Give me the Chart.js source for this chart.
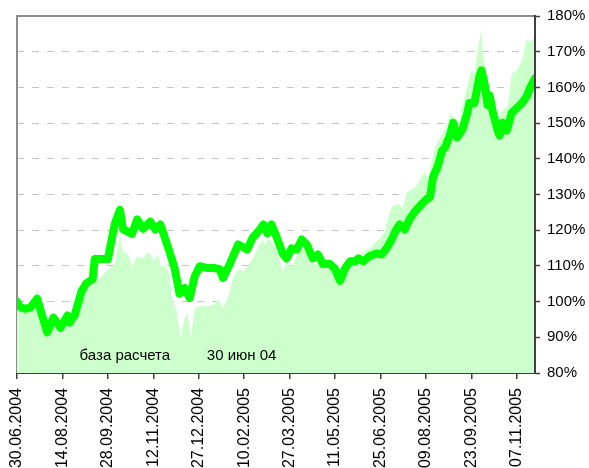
<!DOCTYPE html>
<html>
<head>
<meta charset="utf-8">
<script src="https://cdn.jsdelivr.net/npm/chart.js@4/dist/chart.umd.min.js"></script>
<style>
  html, body { margin: 0; padding: 0; background: #ffffff; }
  #wrap { width: 589px; height: 468px; position: relative; }
</style>
</head>
<body>
<div id="wrap"><canvas id="c" width="589" height="468"></canvas></div>
<script>
// ---- data (day offset from 30.06.2004, value in %) ----
const tickDays = [0, 45, 90, 135, 180, 225, 270, 315, 360, 405, 450, 495];
const tickLabels = ['30.06.2004', '14.08.2004', '28.09.2004', '12.11.2004', '27.12.2004', '10.02.2005',
                    '27.03.2005', '11.05.2005', '25.06.2005', '09.08.2005', '23.09.2005', '07.11.2005'];
const yTickValues = [80, 90, 100, 110, 120, 130, 140, 150, 160, 170, 180];

const lineDays = [0, 3, 8, 13, 20, 25, 30, 36, 43, 50, 52, 57, 64, 69, 75, 77, 84, 90, 94, 97, 102, 105,
  114, 119, 125, 132, 137, 142, 147, 151, 156, 161, 166, 171, 176, 181, 189, 196, 201, 204, 211, 219,
  228, 233, 241, 244, 248, 252, 257, 263, 267, 272, 277, 282, 287, 293, 298, 303, 310, 315, 320, 325,
  330, 335, 338, 343, 349, 356, 361, 366, 371, 376, 379, 384, 389, 394, 401, 406, 409, 412, 417, 421,
  424, 429, 432, 436, 441, 446, 448, 453, 458, 460, 463, 466, 468, 471, 476, 478, 481, 485, 490, 495,
  500, 505, 508, 513];
const lineValues = [100, 98.5, 98, 98.3, 100.8, 96, 91.4, 95.5, 92.7, 96.1, 94.1, 96.1, 103, 105.2, 106.3,
  111.9, 111.9, 111.9, 117.7, 122, 125.7, 120.2, 119, 123, 120.4, 122.4, 120.2, 121.6, 117.4, 114, 109.4,
  102.2, 103.8, 101, 107.1, 109.9, 109.4, 109.4, 109, 106.6, 110.7, 116, 114.6, 117.7, 120.4, 121.6,
  119.1, 121.6, 118.2, 113.5, 112.1, 114.9, 114.6, 117.4, 116, 112.1, 113.2, 110.5, 110.5, 109.1, 105.8,
  109.4, 111.3, 111.3, 112.1, 111.3, 112.7, 113.5, 113.2, 114.9, 117.4, 120.4, 121.6, 120.2, 123.2,
  125.2, 127.4, 128.8, 129.3, 134.8, 138.2, 142.3, 143.2, 146.8, 150.1, 146, 148.1, 152.9, 155.6, 155.6,
  163.1, 164.8, 161.2, 155.1, 157.8, 153.4, 147.9, 146.5, 150.1, 147.9, 152.9, 154.2, 155.6, 157.6,
  159.8, 162.5];

const areaDays = [0, 3, 13, 20, 25, 31, 36, 43, 50, 57, 64, 69, 77, 84, 90, 97, 102, 105, 110, 114, 119,
  124, 129, 132, 135, 140, 142, 147, 151, 154, 158, 162, 166, 169, 172, 176, 181, 191, 196, 199, 204,
  209, 214, 219, 224, 229, 236, 243, 246, 249, 254, 259, 263, 268, 272, 277, 282, 287, 293, 303, 315,
  320, 325, 335, 343, 349, 356, 361, 364, 367, 371, 376, 379, 382, 386, 391, 396, 401, 404, 407, 411,
  416, 421, 426, 429, 434, 438, 441, 446, 450, 453, 456, 460, 461, 465, 468, 473, 476, 481, 486, 490,
  495, 500, 505, 508, 513];
const areaValues = [98, 97.5, 98, 103.5, 96, 90, 94.5, 92, 95, 95.5, 101, 103, 105.5, 107.1, 109, 110.5,
  119, 114, 113.2, 109.9, 112.7, 112.1, 113.5, 113.5, 111.3, 113.2, 109.9, 109.9, 107.7, 100.2, 97.5, 90,
  95.5, 96.6, 90, 98.3, 98.8, 98.8, 99.4, 100.8, 98.3, 101, 106.6, 109, 108.5, 109.9, 113.5, 117.4, 116,
  117.7, 116, 112.7, 108.5, 111.3, 109.4, 112.7, 114.9, 114, 110.7, 109.9, 108, 105.2, 108.5, 111.3, 114,
  114.9, 116.8, 118.2, 119.6, 123.2, 126.5, 127.4, 127.1, 126, 130.7, 131.5, 132.6, 135.4, 136.2, 134.3,
  139.8, 144.5, 146.8, 149.3, 152.9, 151, 150.1, 154.8, 160.3, 164.8, 163.9, 170.3, 176.4, 170.3, 163.1,
  159.2, 153.7, 152, 153.7, 154.8, 163.9, 164.8, 167.5, 173.6, 172.8, 174.2];

const noteTexts = ['база расчета', '30 июн 04'];

// ---- build ----
const linePts = lineDays.map((d, i) => ({ x: d, y: lineValues[i] }));
const areaPts = areaDays.map((d, i) => ({ x: d, y: areaValues[i] }));
const FONT = "'Liberation Sans', Arial, sans-serif";

const framePlugin = {
  id: 'frame',
  beforeDatasetsDraw(chart) {
    const { ctx, chartArea: a } = chart;
    ctx.save();
    ctx.strokeStyle = '#8c8c8c';
    ctx.lineWidth = 2;
    ctx.beginPath();
    ctx.moveTo(a.left, a.bottom);
    ctx.lineTo(a.left, a.top);
    ctx.lineTo(a.right, a.top);
    ctx.stroke();
    ctx.restore();
  },
  afterDatasetsDraw(chart) {
    const { ctx } = chart;
    const xs = chart.scales.x, ys = chart.scales.y;
    ctx.save();
    ctx.fillStyle = '#000000';
    ctx.font = '15px ' + FONT;
    ctx.textBaseline = 'alphabetic';
    ctx.textAlign = 'left';
    const yb = ys.getPixelForValue(83.6);
    ctx.fillText(noteTexts[0], xs.getPixelForValue(62), yb);
    ctx.fillText(noteTexts[1], xs.getPixelForValue(188), yb);
    ctx.restore();
  },
  afterDraw(chart) {
    const { ctx, chartArea: a } = chart;
    ctx.save();
    ctx.strokeStyle = '#404040';
    ctx.lineWidth = 2;
    ctx.setLineDash([]);
    ctx.beginPath();
    ctx.moveTo(a.right, a.top - 1);
    ctx.lineTo(a.right, a.bottom + 1);
    ctx.stroke();
    ctx.restore();
  }
};

new Chart(document.getElementById('c'), {
  type: 'line',
  data: {
    datasets: [
      {
        data: linePts,
        order: 0,
        borderColor: '#00ff00',
        borderWidth: 8,
        borderJoinStyle: 'round',
        borderCapStyle: 'round',
        pointRadius: 0,
        tension: 0,
        fill: false
      },
      {
        data: areaPts,
        order: 1,
        borderWidth: 0,
        borderColor: 'rgba(0,0,0,0)',
        backgroundColor: '#ccffcc',
        pointRadius: 0,
        tension: 0,
        fill: 'start'
      }
    ]
  },
  options: {
    responsive: false,
    animation: false,
    events: [],
    layout: { padding: { left: 17, top: 12, right: 0, bottom: 0 } },
    plugins: { legend: { display: false }, tooltip: { enabled: false } },
    scales: {
      x: {
        type: 'linear',
        position: 'bottom',
        min: 0,
        max: 513,
        afterBuildTicks(scale) { scale.ticks = tickDays.map(v => ({ value: v })); },
        afterFit(scale) { scale.height = 95; },
        ticks: {
          autoSkip: false,
          maxRotation: 90,
          minRotation: 90,
          padding: 9,
          color: '#000000',
          font: { family: FONT, size: 16 },
          callback: (v) => tickLabels[tickDays.indexOf(v)]
        },
        grid: { drawOnChartArea: false, drawTicks: true, tickLength: 6, color: '#404040', lineWidth: 1.5 },
        border: { display: true, color: '#404040', width: 2 }
      },
      y: {
        type: 'linear',
        position: 'right',
        min: 80,
        max: 180,
        afterBuildTicks(scale) { scale.ticks = yTickValues.map(v => ({ value: v })); },
        afterFit(scale) { scale.width = 54; },
        ticks: {
          padding: 7,
          color: '#000000',
          font: { family: FONT, size: 15 },
          callback: (v) => v + '%'
        },
        grid: {
          color: '#c4c4c4',
          lineWidth: 1,
          drawTicks: true,
          tickLength: 5,
          tickColor: '#404040',
          tickWidth: 1.5,
          tickBorderDash: []
        },
        border: { display: true, color: '#404040', width: 2, dash: [7, 8] }
      }
    }
  },
  plugins: [framePlugin]
});
</script>
</body>
</html>
